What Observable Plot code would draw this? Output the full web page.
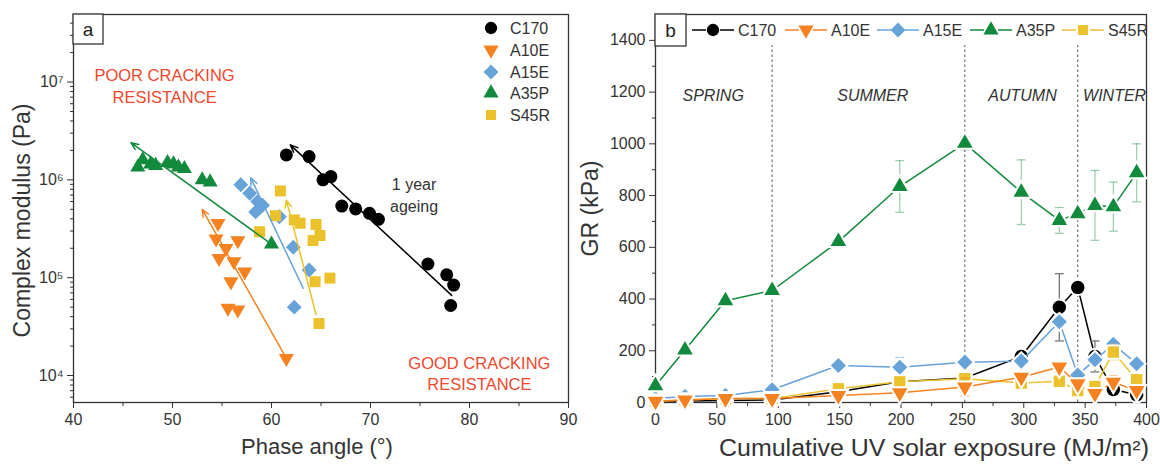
<!DOCTYPE html>
<html><head><meta charset="utf-8">
<script src="https://cdn.jsdelivr.net/npm/d3@7"></script>
<script src="https://cdn.jsdelivr.net/npm/@observablehq/plot@0.6"></script>
<style>
body{margin:0;background:#fff;}
#wrap{position:relative;width:1160px;height:468px;overflow:hidden;background:#fff;}
</style></head><body><div id="wrap"></div>
<script>
// ---------- shared ----------
const samples = ["C170", "A10E", "A15E", "A35P", "S45R"];
const colors = ["#000000", "#f58220", "#67a3d9", "#118a3d", "#ebc22c"];
const symbolNames = ["circle", "triangle", "diamond2", "triangle", "square"];
const rotations = [0, 180, 0, 0, 0];

// ---------- panel a: phase angle (deg) vs complex modulus (Pa) ----------
const phaseC170 = [61.5, 63.8, 65.2, 66.0, 67.1, 68.5, 69.9, 70.8, 75.8, 77.7, 78.4, 78.1];
const modC170   = [1.8e6, 1.73e6, 1.0e6, 1.08e6, 5.4e5, 5.05e5, 4.55e5, 3.95e5, 1.38e5, 1.07e5, 8.4e4, 5.2e4];
const phaseA10E = [54.6, 54.4, 56.6, 55.4, 54.7, 56.2, 57.3, 55.9, 55.6, 56.6, 61.5];
const modA10E   = [3.6e5, 2.5e5, 2.4e5, 2.0e5, 1.58e5, 1.46e5, 1.15e5, 9.1e4, 4.9e4, 4.7e4, 1.5e4];
const phaseA15E = [56.9, 57.8, 58.6, 59.1, 58.4, 60.8, 62.2, 63.8, 62.3];
const modA15E   = [8.9e5, 7.3e5, 6.0e5, 5.5e5, 4.7e5, 4.2e5, 2.05e5, 1.2e5, 5.0e4];
const phaseA35P = [46.5, 47.0, 47.8, 48.3, 49.5, 50.1, 50.6, 51.2, 53.0, 53.8, 60.0];
const modA35P   = [1.35e6, 1.6e6, 1.45e6, 1.4e6, 1.5e6, 1.45e6, 1.35e6, 1.3e6, 1.0e6, 0.95e6, 2.2e5];
const phaseS45R = [60.9, 60.4, 58.8, 62.3, 62.9, 64.5, 64.9, 64.2, 64.4, 65.9, 64.8];
const modS45R   = [7.7e5, 4.3e5, 2.95e5, 3.9e5, 3.6e5, 3.5e5, 2.7e5, 2.4e5, 9.1e4, 9.9e4, 3.4e4];
// ageing trend arrows (tail -> head), in C170, A10E, A15E, A35P, S45R order
const trendPhaseFrom = [78.2, 61.5, 63.2, 60.0, 64.5];
const trendModFrom   = [6.6e4, 1.5e4, 7.8e4, 2.2e5, 4.2e4];
const trendPhaseTo   = [61.9, 53.0, 57.9, 45.8, 61.5];
const trendModTo     = [2.28e6, 5.0e5, 1.05e6, 2.4e6, 6.2e5];
const phaseTicks = [40, 50, 60, 70, 80, 90];
const phaseMinor = [45, 55, 65, 75, 85];
const modTicks = [1e4, 1e5, 1e6, 1e7];

// ---------- panel b: cumulative UV exposure vs GR ----------
const uvExposure = [0, 24, 57, 95, 149, 199, 252, 298, 329, 344, 358, 373, 392];
const grC170 = [5, 6, 8, 10, 42, 80, 95, 178, 368, 445, 178, 50, 30];
const grA10E = [5, 10, 15, 15, 27, 38, 60, 98, 137, 72, 35, 78, 46];
const grA15E = [15, 23, 27, 49, 143, 136, 156, 160, 312, 106, 165, 225, 150];
const grA35P = [65, 203, 393, 433, 622, 835, 1002, 813, 704, 730, 762, 757, 888];
const grS45R = [5, 10, 15, 15, 53, 80, 92, 75, 82, 46, 62, 195, 88];
const errC170 = [0, 0, 0, 0, 0, 0, 0, 0, 130, 0, 60, 0, 0];
const errA10E = [0, 0, 0, 0, 0, 0, 35, 0, 0, 0, 0, 26, 0];
const errA15E = [0, 0, 0, 0, 0, 38, 0, 0, 0, 0, 0, 0, 0];
const errA35P = [0, 0, 0, 0, 0, 100, 25, 125, 50, 15, 135, 95, 112];
const errS45R = [0, 0, 0, 0, 0, 0, 0, 0, 0, 0, 0, 30, 0];
const seasonBounds = [95, 252, 344];
const seasonNames = ["SPRING", "SUMMER", "AUTUMN", "WINTER"];
const seasonLabelX = [47, 177, 299, 374];
const seasonLabelY = 1185;
const grTicks = [0, 200, 400, 600, 800, 1000, 1200, 1400];
const grMinor = [100, 300, 500, 700, 900, 1100, 1300];
const uvTicks = [0, 50, 100, 150, 200, 250, 300, 350, 400];
const uvMinor = [25, 75, 125, 175, 225, 275, 325, 375];

// ---------- helpers ----------
const font = "'Liberation Sans', Arial, Helvetica, sans-serif";
const ink = "#333";
const W = 1160, H = 468;
const wrap = document.getElementById("wrap");
const supDigits = {"0":"⁰","1":"¹","2":"²","3":"³","4":"⁴","5":"⁵","6":"⁶","7":"⁷","8":"⁸","9":"⁹","-":"⁻"};
const fmtPow = d => "10" + String(Math.round(Math.log10(d))).split("").map(c => supDigits[c]).join("");
const modMinor = [1e3, 1e4, 1e5, 1e6, 1e7]
  .flatMap(t => [2, 3, 4, 5, 6, 7, 8, 9].map(k => k * t))
  .filter(v => v > 5.3e3 && v < 4.9e7);
const phaseA = [phaseC170, phaseA10E, phaseA15E, phaseA35P, phaseS45R];
const modA = [modC170, modA10E, modA15E, modA35P, modS45R];
const grB = [grC170, grA10E, grA15E, grA35P, grS45R];
const errB = [errC170, errA10E, errA15E, errA35P, errS45R];
const rA = [6.5, 5.6, 6.7, 5.6, 6.2];
const rB = [6.7, 5.8, 6.8, 5.8, 6.4];
const errColors = ["#777777", "rgba(245,130,32,0.5)", "rgba(103,163,217,0.55)", "rgba(17,138,61,0.4)", "rgba(235,194,44,0.6)"];
const capSymbol = {draw(ctx, size) { const h = Math.sqrt(size / Math.PI); ctx.moveTo(-h, 0); ctx.lineTo(h, 0); }};
// minor tick glyphs: outward from the left axis / below the bottom axis
const leftTick = {draw(ctx, size) { const h = Math.sqrt(size / Math.PI); ctx.moveTo(-h, 0); ctx.lineTo(0, 0); }};
const downTick = {draw(ctx, size) { const h = Math.sqrt(size / Math.PI); ctx.moveTo(0, 0); ctx.lineTo(0, h); }};
const minorX = ticks => Plot.dot(ticks, {x: d => d, frameAnchor: "bottom", symbol: downTick, r: 3.5, stroke: ink, strokeWidth: 1, fill: "none"});
const minorY = ticks => Plot.dot(ticks, {y: d => d, frameAnchor: "left", symbol: leftTick, r: 3.5, stroke: ink, strokeWidth: 1, fill: "none"});

function place(node, left) {
  node.style.position = "absolute";
  node.style.left = left + "px";
  node.style.top = "0px";
  wrap.appendChild(node);
}

// ---------- panel a ----------
const marksA = [
  Plot.axisX({ticks: phaseTicks, anchor: "bottom", tickSize: 6, tickPadding: 5, fontSize: 16, label: null, color: ink}),
  minorX(phaseMinor),
  Plot.axisY({ticks: modTicks, anchor: "left", tickSize: 6, tickPadding: 4, tickFormat: fmtPow, fontSize: 16, label: null, color: ink}),
  minorY(modMinor),
  Plot.frame({stroke: "#333", strokeWidth: 1.3})
];
samples.forEach((s, i) => {
  const rows = phaseA[i].map((p, j) => ({phase: p, mod: modA[i][j]}));
  marksA.push(Plot.dot(rows, {x: "phase", y: "mod", symbol: symbolNames[i], rotate: rotations[i], r: rA[i], fill: colors[i], stroke: "none"}));
});
samples.forEach((s, i) => {
  marksA.push(Plot.arrow([i], {
    x1: k => trendPhaseFrom[k], y1: k => trendModFrom[k],
    x2: k => trendPhaseTo[k], y2: k => trendModTo[k],
    stroke: colors[i], strokeWidth: 1.5, headLength: 8, headAngle: 45
  }));
});
marksA.push(
  Plot.text(["POOR CRACKING\nRESISTANCE"], {x: 49.2, y: 9.3e6, text: d => d, fill: "#f0472d", fontSize: 16.5, lineHeight: 1.3}),
  Plot.text(["GOOD CRACKING\nRESISTANCE"], {x: 81.0, y: 1.07e4, text: d => d, fill: "#f0472d", fontSize: 16.5, lineHeight: 1.3}),
  Plot.text(["1 year\nageing"], {x: 74.4, y: 7.2e5, text: d => d, fill: ink, fontSize: 16, lineHeight: 1.4}),
  Plot.text(["Phase angle (°)"], {frameAnchor: "bottom", dx: -4, dy: 51, textAnchor: "middle", text: d => d, fill: ink, fontSize: 22}),
  Plot.text(["Complex modulus (Pa)"], {frameAnchor: "left", dx: -51, dy: 12, textAnchor: "middle", rotate: -90, text: d => d, fill: ink, fontSize: 23})
);
const panelA = Plot.plot({
  width: 590, height: 468,
  marginLeft: 73, marginRight: 22, marginTop: 14, marginBottom: 66,
  style: {fontFamily: font, fontSize: "16px", color: ink, background: "transparent", overflow: "visible"},
  x: {domain: [40, 90], label: null},
  y: {type: "log", domain: [5.3e3, 4.9e7], label: null},
  marks: marksA
});
place(panelA, 0);

// ---------- panel b ----------
const marksB = [
  Plot.axisX({ticks: uvTicks, anchor: "bottom", tickSize: 6, tickPadding: 5, fontSize: 16, tickFormat: d => String(d), label: null, color: ink}),
  minorX(uvMinor),
  Plot.axisY({ticks: grTicks, anchor: "left", tickSize: 6, tickPadding: 4, fontSize: 16, tickFormat: d => String(d), label: null, color: ink}),
  minorY(grMinor),
  Plot.ruleX(seasonBounds, {x: d => d, y1: 0, y2: 1380, stroke: "#555", strokeWidth: 1, strokeDasharray: "2.5,2.5"}),
  Plot.text(seasonNames, {x: (d, i) => seasonLabelX[i], y: seasonLabelY, text: d => d, fontStyle: "italic", fontSize: 16, fill: ink}),
  Plot.frame({stroke: "#333", strokeWidth: 1.3})
];
const orderB = [0, 2, 4, 1, 3];
orderB.forEach(i => {
  const rows = uvExposure.map((x, j) => ({x, v: grB[i][j], e: errB[i][j]}));
  const errRows = rows.filter(d => d.e > 0);
  marksB.push(
    Plot.line(rows, {x: "x", y: "v", stroke: colors[i], strokeWidth: 1.5}),
    Plot.ruleX(errRows, {x: "x", y1: d => d.v - d.e, y2: d => d.v + d.e, stroke: errColors[i], strokeWidth: 1.3}),
    Plot.dot(errRows, {x: "x", y: d => d.v - d.e, symbol: capSymbol, r: 4.5, stroke: errColors[i], strokeWidth: 1.3, fill: "none"}),
    Plot.dot(errRows, {x: "x", y: d => d.v + d.e, symbol: capSymbol, r: 4.5, stroke: errColors[i], strokeWidth: 1.3, fill: "none"}),
    Plot.dot(rows, {x: "x", y: "v", symbol: symbolNames[i], rotate: rotations[i], r: rB[i], fill: colors[i], stroke: "white", strokeWidth: 4, paintOrder: "stroke"})
  );
});
marksB.push(
  Plot.text(["Cumulative UV solar exposure (MJ/m²)"], {frameAnchor: "bottom", dx: 33, dy: 53, textAnchor: "middle", text: d => d, fill: ink, fontSize: 23, className: "xtitle-b"}),
  Plot.text(["GR (kPa)"], {frameAnchor: "left", dx: -65, textAnchor: "middle", rotate: -90, text: d => d, fill: ink, fontSize: 23})
);
const panelB = Plot.plot({
  width: 580, height: 468,
  marginLeft: 75, marginRight: 14, marginTop: 14, marginBottom: 66,
  style: {fontFamily: font, fontSize: "16px", color: ink, background: "transparent", overflow: "visible"},
  x: {domain: [0, 400], label: null},
  y: {domain: [0, 1500], label: null},
  marks: marksB
});
d3.select(panelB).selectAll(".xtitle-b text").attr("textLength", 430).attr("lengthAdjust", "spacingAndGlyphs");
place(panelB, 580);

// ---------- legends and panel tags ----------
const symMap = {circle: d3.symbolCircle, triangle: d3.symbolTriangle, diamond2: d3.symbolDiamond2, square: d3.symbolSquare};
const legSize = [120, 100, 140, 100, 100];
const ov = d3.create("svg").attr("width", W).attr("height", H)
  .style("position", "absolute").style("left", "0px").style("top", "0px")
  .style("font-family", font).style("pointer-events", "none");
function drawSym(g, i, cx, cy) {
  g.append("path").attr("d", d3.symbol(symMap[symbolNames[i]], legSize[i])())
    .attr("transform", `translate(${cx},${cy}) rotate(${rotations[i]})`).attr("fill", colors[i]);
}
// panel tags
[["a", 73, 14, 30, 30], ["b", 655, 14, 31, 32]].forEach(([t, x, y, w, h]) => {
  ov.append("rect").attr("x", x).attr("y", y).attr("width", w).attr("height", h).attr("fill", "white").attr("stroke", "#333").attr("stroke-width", 1.3);
  ov.append("text").attr("x", x + w / 2).attr("y", y + h / 2).attr("text-anchor", "middle").attr("dominant-baseline", "central").attr("font-size", 19).attr("fill", "#222").text(t);
});
// legend a (vertical)
const legARows = [28, 50, 72, 93, 115];
samples.forEach((s, i) => {
  drawSym(ov, i, 491, legARows[i]);
  ov.append("text").attr("x", 510).attr("y", legARows[i]).attr("dominant-baseline", "central").attr("font-size", 16).attr("fill", ink).text(s);
});
// legend b (horizontal)
const legBx = [692, 785, 877, 970, 1062];
samples.forEach((s, i) => {
  const x0 = legBx[i], cy = 30;
  ov.append("line").attr("x1", x0).attr("x2", x0 + 42).attr("y1", cy).attr("y2", cy).attr("stroke", colors[i]).attr("stroke-width", 1.5);
  ov.append("rect").attr("x", x0 + 14).attr("y", cy - 8).attr("width", 14).attr("height", 16).attr("fill", "white");
  drawSym(ov, i, x0 + 21, cy);
  ov.append("text").attr("x", x0 + 46).attr("y", cy).attr("dominant-baseline", "central").attr("font-size", 16).attr("fill", ink).text(s);
});
wrap.appendChild(ov.node());
</script></body></html>
